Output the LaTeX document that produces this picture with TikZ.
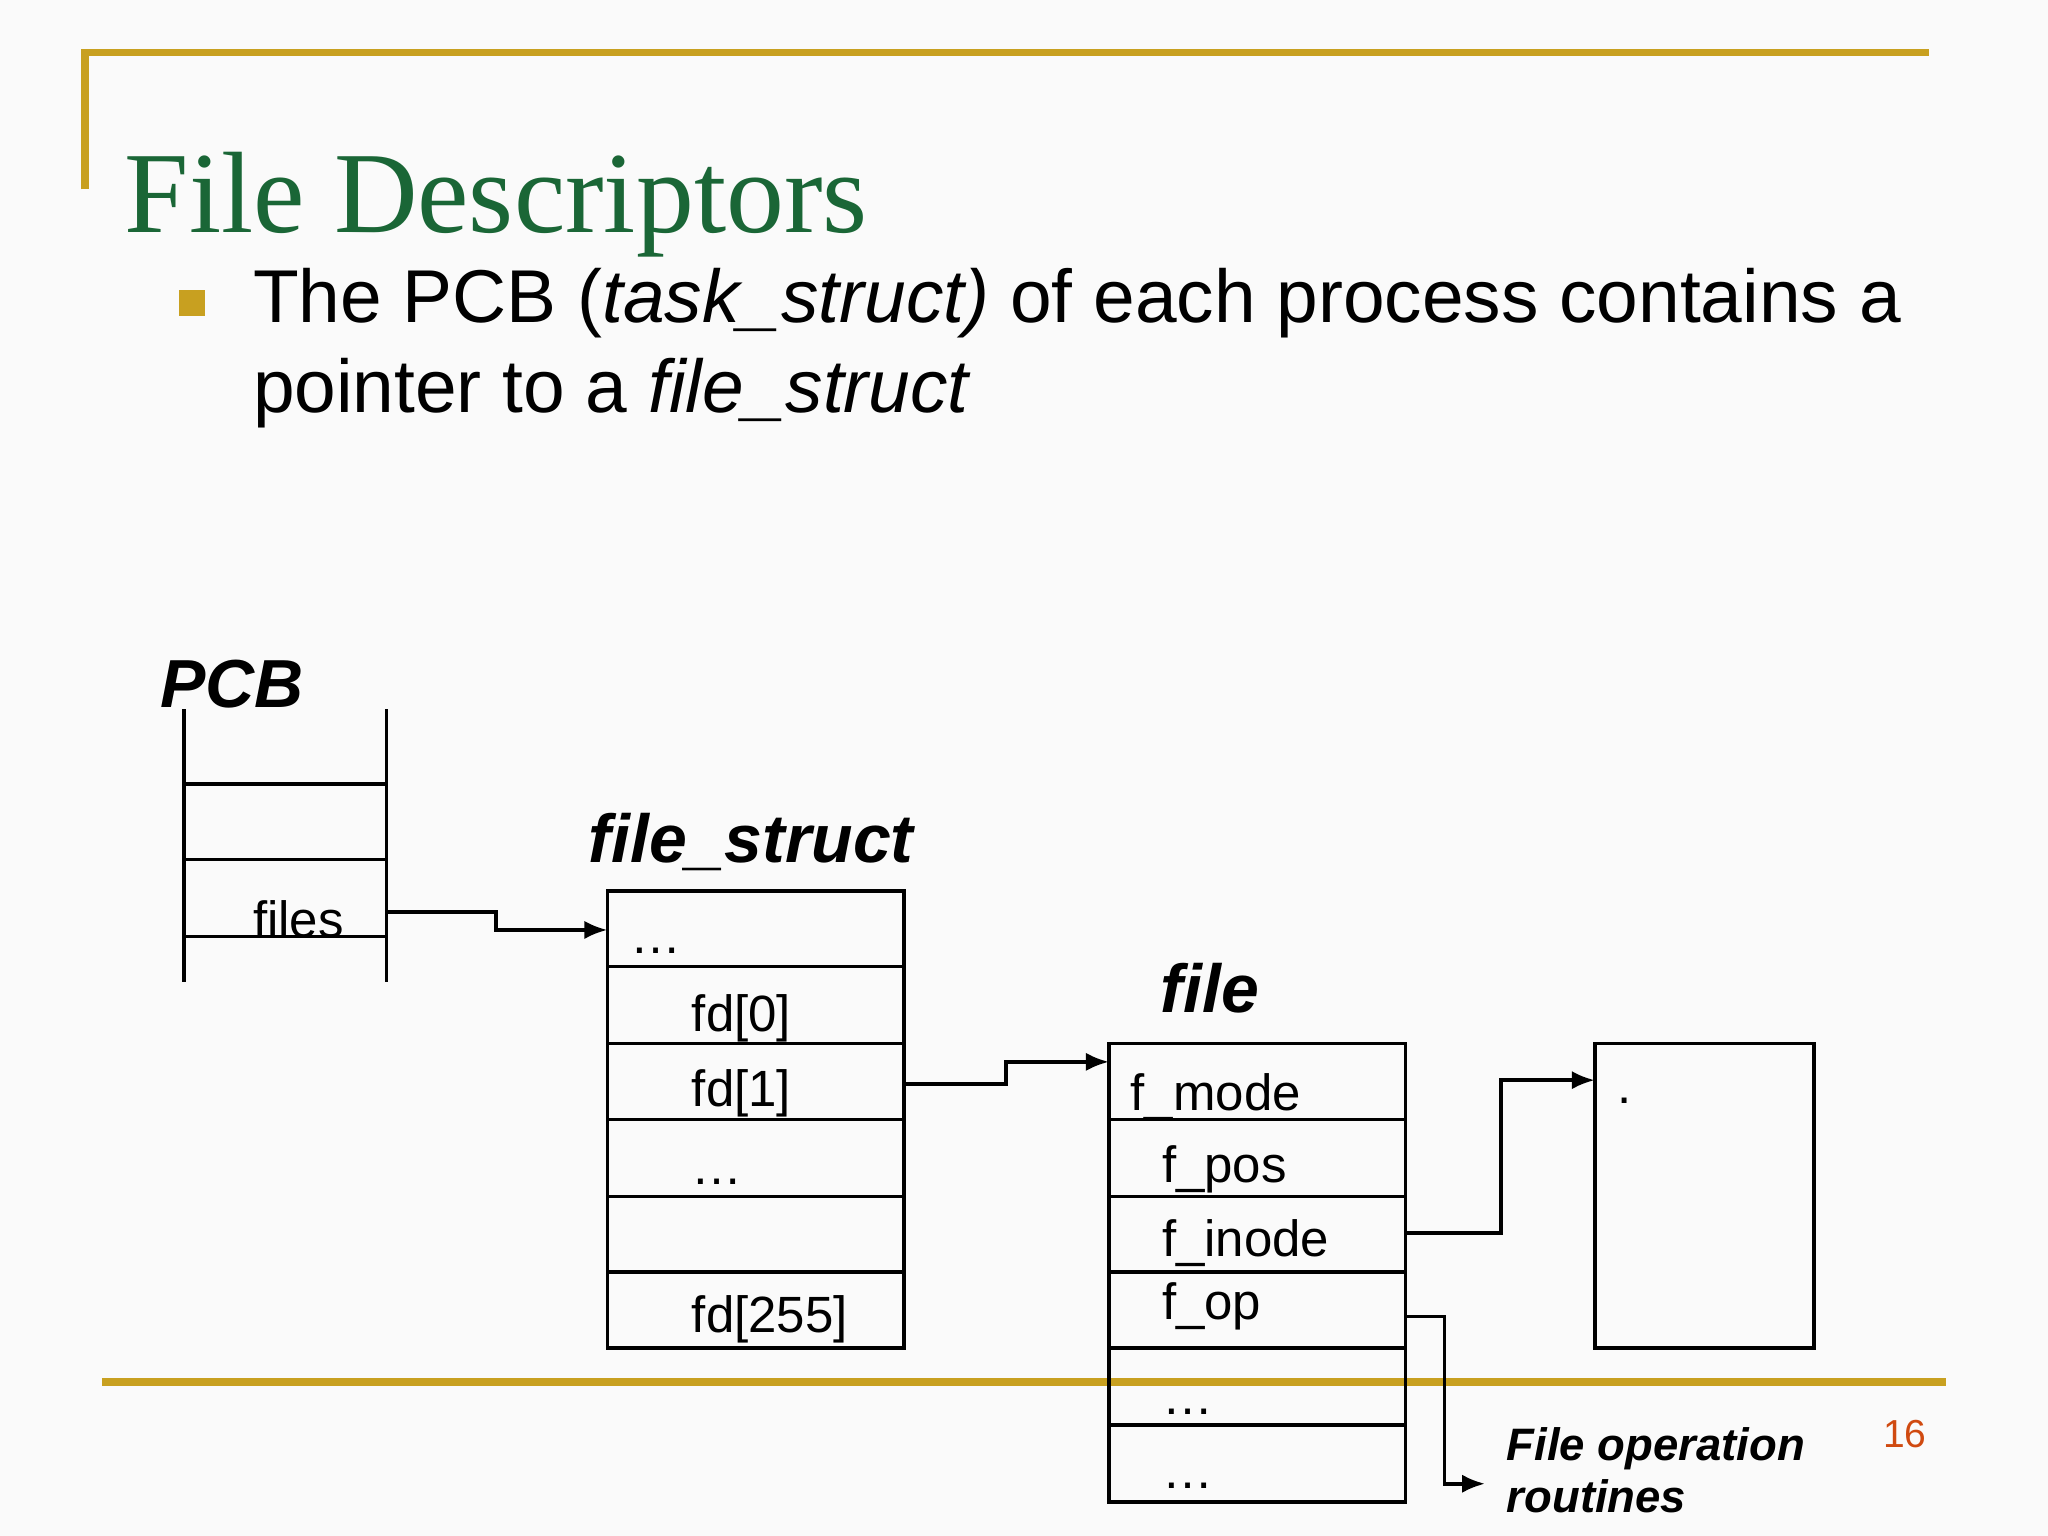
\documentclass[tikz,border=0pt]{standalone}
\usepackage{fontspec}
\setmainfont{Liberation Sans}
\newfontfamily\titlefont{Liberation Serif}
\usetikzlibrary{arrows.meta}
\definecolor{gold}{HTML}{C8A020}
\definecolor{tgreen}{HTML}{1A6636}
\definecolor{pnum}{HTML}{D04A10}
\begin{document}
\begin{tikzpicture}[x=0.01cm,y=-0.01cm,
  txt/.style={anchor=base west,inner sep=0pt,font=\fontsize{11.1}{13}\selectfont},
  lbl/.style={anchor=base west,inner sep=0pt,font=\fontsize{14.8}{18}\selectfont\bfseries\itshape},
  box/.style={draw,line width=0.8pt},
  ln/.style={line width=0.8pt},
  arr/.style={line width=0.8pt,-{Latex[length=5pt,width=4pt]}}]
\useasboundingbox[fill=white!98!black] (0,0) rectangle (1568,1176);
\draw[gold,line width=1.6pt] (65,145) -- (65,40) -- (1477,40);
\draw[gold,line width=1.6pt] (78,1058) -- (1490,1058);
\node[anchor=base west,inner sep=0pt,text=tgreen,font=\fontsize{25.2}{30}\titlefont] (title) at (95,178) {File Descriptors};
\fill[gold] (137,222) rectangle (157,242);
\node[anchor=base west,inner sep=0pt,font=\fontsize{16.3}{20}\selectfont] (b1) at (193,247) {The PCB (\textit{task\_struct)} of each process contains a};
\node[anchor=base west,inner sep=0pt,font=\fontsize{16.3}{20}\selectfont] (b2) at (193,316) {pointer to a \textit{file\_struct}};
\node[anchor=base west,inner sep=0pt,text=pnum,font=\fontsize{8.5}{10}\selectfont] (pg) at (1441,1108) {16};
% PCB
\node[lbl] (pcbl) at (122,542) {PCB};
\draw[ln] (141,543) -- (141,752);
\draw[ln] (296,543) -- (296,752);
\foreach \y in {600,658,717} \draw[ln] (141,\y) -- (296,\y);
\node[txt] (files) at (193,718) {files};
\coordinate (pcbout) at (296,698);
% file_struct
\node[lbl] (fsl) at (450,660) {file\_struct};
\draw[box] (465,682) rectangle (692,1032);
\foreach \y in {740,799,857,916,974} \draw[ln] (465,\y) -- (692,\y);
\coordinate (fsin) at (465,712);
\coordinate (fsout) at (692,830);
\node[txt] at (482,730) {\dots};
\node[txt] at (529,790) {fd[0]};
\node[txt] at (529,847) {fd[1]};
\node[txt] at (529,907) {\dots};
\node[txt] at (529,1020) {fd[255]};
% file
\node[lbl] (filel) at (888,775) {file};
\draw[box] (849,799) rectangle (1076,1150);
\foreach \y in {857,916,974,1032,1091} \draw[ln] (849,\y) -- (1076,\y);
\coordinate (filein) at (849,813);
\coordinate (inodeout) at (1076,944);
\coordinate (opout) at (1076,1008);
\node[txt] at (865,850) {f\_mode};
\node[txt] at (889,905) {f\_pos};
\node[txt] at (889,962) {f\_inode};
\node[txt] at (889,1010) {f\_op};
\node[txt] at (889,1083) {\dots};
\node[txt] at (889,1140) {\dots};
% inode box
\draw[box] (1221,799) rectangle (1389,1032);
\coordinate (inodein) at (1221,827);
\node[txt] at (1238,845) {.};
% ops
\coordinate (ops) at (1137,1136);
\node[anchor=base west,inner sep=0pt,font=\fontsize{9.9}{11.5}\selectfont\bfseries\itshape] (opl) at (1153,1118) {File operation};
\node[anchor=base west,inner sep=0pt,font=\fontsize{9.9}{11.5}\selectfont\bfseries\itshape] (opl2) at (1153,1158) {routines};
% arrows
\draw[arr] (pcbout) -- (380,698) -- (380,712) -- (fsin);
\draw[arr] (fsout) -- (770,830) -- (770,813) -- (filein);
\draw[arr] (inodeout) -- (1149,944) -- (1149,827) -- (inodein);
\draw[arr] (opout) -- (1106,1008) -- (1106,1136) -- (ops);
\end{tikzpicture}
\end{document}
